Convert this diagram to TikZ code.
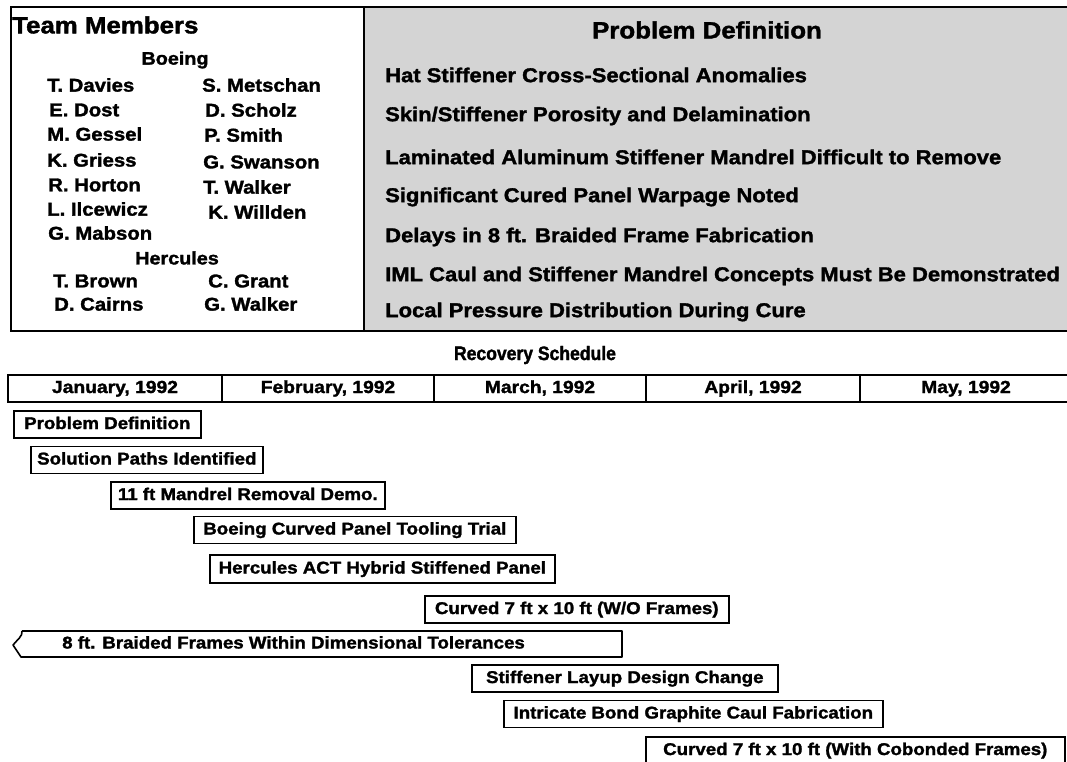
\documentclass[tikz,border=0pt]{standalone}
\usepackage{fontspec}
\newfontfamily\hv[FakeStretch=1.1,FakeBold=1.6]{Liberation Sans}
\newfontfamily\hvc[FakeStretch=0.9,FakeBold=1.6]{Liberation Sans}
\tikzset{
  frame/.style={draw, line width=1.8pt, inner sep=0pt},
  tmhead/.style={inner sep=0pt, font=\hv\bfseries\fontsize{23.5}{26}\selectfont},
  orgname/.style={inner sep=0pt, font=\hv\bfseries\fontsize{18}{20}\selectfont},
  person/.style={inner sep=0pt, anchor=west, font=\hv\bfseries\fontsize{18.5}{20}\selectfont},
  probline/.style={inner sep=0pt, anchor=west, font=\hv\bfseries\fontsize{20}{22}\selectfont},
  monthcell/.style={draw, line width=1.6pt, inner sep=0pt, minimum height=27pt, text height=12pt, text depth=3pt, font=\hv\bfseries\fontsize{17.5}{19}\selectfont},
  bar/.style={draw, line width=1.6pt, inner sep=0pt, anchor=west, minimum height=27pt, text height=12.5pt, text depth=3.5pt, font=\hv\bfseries\fontsize{17}{19}\selectfont},
  bartext/.style={inner sep=0pt, anchor=west, text height=12.5pt, text depth=3.5pt, font=\hv\bfseries\fontsize{17}{19}\selectfont}
}
\begin{document}
\begin{tikzpicture}[x=1pt,y=-1pt]
\path[use as bounding box, clip] (0,0) rectangle (1067,761);
\fill[white] (0,0) rectangle (1067,761);

% top panels
\node[frame, fill=black!17, minimum width=712pt, minimum height=324pt, anchor=north west] (probbox) at (363,6) {};
\node[frame, fill=white, minimum width=353pt, minimum height=324pt, anchor=north west] (teambox) at (10,6) {};

% team members
\node[tmhead, anchor=west] (tm) at (12,25) {Team Members};
\node[orgname] (boeing) at (175,60) {Boeing};
\node[person] (p1) at (47,85) {T. Davies};
\node[person] (p2) at (49,110) {E. Dost};
\node[person] (p3) at (47,134) {M. Gessel};
\node[person] (p4) at (47,160) {K. Griess};
\node[person] (p5) at (48,185) {R. Horton};
\node[person] (p6) at (47,209) {L. Ilcewicz};
\node[person] (p7) at (48,233) {G. Mabson};
\node[person] (q1) at (202,85) {S. Metschan};
\node[person] (q2) at (205,110) {D. Scholz};
\node[person] (q3) at (204,135) {P. Smith};
\node[person] (q4) at (203,162) {G. Swanson};
\node[person] (q5) at (203,187) {T. Walker};
\node[person] (q6) at (208,212) {K. Willden};
\node[orgname] (herc) at (177,258) {Hercules};
\node[person] (h1) at (53,281) {T. Brown};
\node[person] (h2) at (54,304) {D. Cairns};
\node[person] (h3) at (208,281) {C. Grant};
\node[person] (h4) at (204,304) {G. Walker};

% problem definition
\node[tmhead] (pdh) at (707,30) {Problem Definition};
\node[probline] (l1) at (385,75) {Hat Stiffener Cross-Sectional Anomalies};
\node[probline] (l2) at (385,116) {Skin/Stiffener Porosity and Delamination};
\node[probline] (l3) at (385,157) {Laminated Aluminum Stiffener Mandrel Difficult to Remove};
\node[probline] (l4) at (385,197) {Significant Cured Panel Warpage Noted};
\node[probline] (l5) at (385,237) {Delays in 8 ft. Braided Frame Fabrication};
\node[probline] (l6) at (385,276) {IML Caul and Stiffener Mandrel Concepts Must Be Demonstrated};
\node[probline] (l7) at (385,312) {Local Pressure Distribution During Cure};

% recovery schedule
\node[inner sep=0pt, font=\hvc\bfseries\fontsize{19.5}{22}\selectfont] (rs) at (535,355) {Recovery Schedule};
\node[monthcell, minimum width=214pt] (m1) at (115,388.5) {January, 1992};
\node[monthcell, minimum width=212pt] (m2) at (328,388.5) {February, 1992};
\node[monthcell, minimum width=212pt] (m3) at (540,388.5) {March, 1992};
\node[monthcell, minimum width=214pt] (m4) at (753,388.5) {April, 1992};
\node[monthcell, minimum width=212pt] (m5) at (966,388.5) {May, 1992};

% bars
\node[bar, minimum width=187pt] (b1) at (13,424.5) {Problem Definition};
\node[bar, minimum width=232pt] (b2) at (30,460) {Solution Paths Identified};
\node[bar, minimum width=274pt] (b3) at (110,495.5) {11 ft Mandrel Removal Demo.};
\node[bar, minimum width=322pt] (b4) at (193,530) {Boeing Curved Panel Tooling Trial};
\node[bar, minimum width=345pt, minimum height=28pt] (b5) at (209,569) {Hercules ACT Hybrid Stiffened Panel};
\node[bar, minimum width=304pt] (b6) at (424,609.5) {Curved 7 ft x 10 ft (W/O Frames)};
\node[bartext] (b7) at (62,644) {8 ft. Braided Frames Within Dimensional Tolerances};
\coordinate (b7tl) at (22,631);
\coordinate (b7tr) at (622,631);
\coordinate (b7br) at (622,657);
\coordinate (b7bl) at (21,657);
\coordinate (b7tip) at (13,645);
\draw[line width=1.6pt, line join=round] (b7tl) -- (b7tr) -- (b7br) -- (b7bl) -- (b7tip) .. controls (17,640) and (23,636) .. (b7tl);
\node[bar, minimum width=306pt] (b8) at (471,678.5) {Stiffener Layup Design Change};
\node[bar, minimum width=379pt] (b9) at (503,714) {Intricate Bond Graphite Caul Fabrication};
\node[bar, minimum width=419pt] (b10) at (645,750.5) {Curved 7 ft x 10 ft (With Cobonded Frames)};
\end{tikzpicture}
\end{document}
